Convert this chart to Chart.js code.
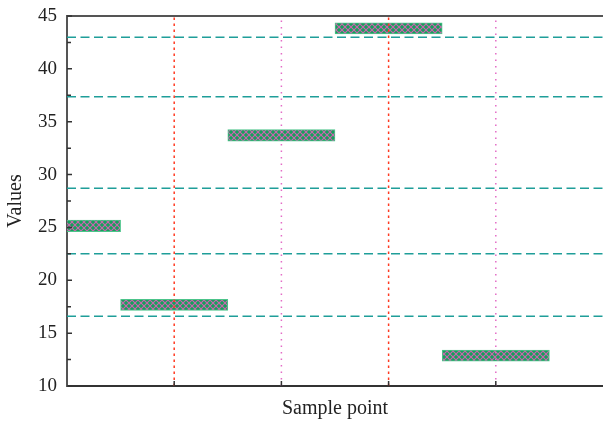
<!DOCTYPE html>
<html>
<head>
<meta charset="utf-8">
<title>Values</title>
<script src="https://cdn.jsdelivr.net/npm/chart.js@4/dist/chart.umd.min.js"></script>
<style>
  html, body { margin: 0; padding: 0; background: #fff; }
  #grafico { display: block; }
</style>
</head>
<body>
<canvas id="grafico" width="603" height="423"></canvas>
<script>
// datos del gráfico

var puntos = [0, 1, 2, 3, 4];
var barraBajo = [24.6, 17.15, 33.15, 43.3, 12.35];
var barraAlto = [25.7, 18.2, 34.25, 44.35, 13.4];
var lineasH = [43.0, 37.35, 28.7, 22.5, 16.6];
var lineasV = [1, 2, 3, 4];
var coloresV = ["#ff3a22", "#e36cc6", "#ff3a22", "#e36cc6"];
var ticksY = [10, 15, 20, 25, 30, 35, 40, 45];
var ticksX = [1, 2, 3, 4];

// patrón verde con cuadrícula rosa para las barras

function crearPatron() {
    var c = document.createElement("canvas");
    c.width = 6;
    c.height = 6;
    var ctx = c.getContext("2d");
    ctx.fillStyle = "#16a05c";
    ctx.fillRect(0, 0, 6, 6);
    ctx.strokeStyle = "#d062b0";
    ctx.lineWidth = 1.1;
    ctx.beginPath();
    ctx.moveTo(0, 0); ctx.lineTo(6, 6);
    ctx.moveTo(6, 0); ctx.lineTo(0, 6);
    ctx.stroke();
    return ctx.createPattern(c, "repeat");
}

// marcas de los ejes hacia dentro y línea superior del marco

var marcas = {
    id: "marcas",
    afterDraw: function (chart) {
        var ctx = chart.ctx;
        var area = chart.chartArea;
        var x = chart.scales.x;
        var y = chart.scales.y;
        ctx.save();
        ctx.strokeStyle = "#555";
        ctx.lineWidth = 2;
        ctx.beginPath();
        ctx.moveTo(area.left, area.top);
        ctx.lineTo(area.right, area.top);
        ctx.stroke();

        ctx.strokeStyle = "#333";
        ctx.lineWidth = 1.5;
        ctx.beginPath();
        for (var i = 0; i < ticksY.length; i++) {
            var py = y.getPixelForValue(ticksY[i]);
            ctx.moveTo(area.left, py);
            ctx.lineTo(area.left + 5, py);
            if (i < ticksY.length - 1) {
                var pm = y.getPixelForValue(ticksY[i] + 2.5);
                ctx.moveTo(area.left, pm);
                ctx.lineTo(area.left + 4, pm);
            }
        }
        for (var j = 0; j < ticksX.length; j++) {
            var px = x.getPixelForValue(ticksX[j]);
            ctx.moveTo(px, area.bottom);
            ctx.lineTo(px, area.bottom - 5);
        }
        ctx.stroke();
        ctx.restore();
    }
};

function cargaGrafico() {
    var datasets = [];

    var barras = [];
    for (var i = 0; i < puntos.length; i++) {
        barras.push({ x: puntos[i], y: [barraBajo[i], barraAlto[i]] });
    }
    datasets.push({
        type: "bar",
        data: barras,
        backgroundColor: crearPatron(),
        borderColor: "#4cc48a",
        borderWidth: 1,
        borderSkipped: false,
        barPercentage: 1,
        categoryPercentage: 1,
        grouped: false,
        order: 2
    });

    for (var h = 0; h < lineasH.length; h++) {
        datasets.push({
            type: "line",
            data: [{ x: 0, y: lineasH[h] }, { x: 5, y: lineasH[h] }],
            borderColor: "#1f9e99",
            borderWidth: 1.5,
            borderDash: [9, 4.5],
            pointRadius: 0,
            order: 1
        });
    }

    for (var v = 0; v < lineasV.length; v++) {
        datasets.push({
            type: "line",
            data: [{ x: lineasV[v], y: 10 }, { x: lineasV[v], y: 45 }],
            borderColor: coloresV[v],
            borderWidth: 1.5,
            borderDash: v % 2 === 0 ? [2.5, 3.5] : [1.5, 5],
            pointRadius: 0,
            order: 1
        });
    }

    var config = {
        type: "bar",
        data: { datasets: datasets },
        options: {
            responsive: false,
            animation: false,
            devicePixelRatio: 1,
            layout: { padding: 0 },
            plugins: {
                legend: { display: false },
                tooltip: { enabled: false }
            },
            scales: {
                x: {
                    type: "linear",
                    min: 0,
                    max: 5,
                    offset: false,
                    grid: { display: false, drawTicks: false, offset: false },
                    border: { display: true, color: "#333", width: 2 },
                    afterBuildTicks: function (scale) {
                        scale.ticks = ticksX.map(function (t) { return { value: t }; });
                    },
                    ticks: { display: false },
                    title: {
                        display: true,
                        text: "Sample point",
                        color: "#222",
                        font: { family: "Liberation Serif", size: 20 },
                        padding: { top: 0, bottom: 2 }
                    },
                    afterFit: function (scale) {
                        scale.height = 37;
                        scale.paddingLeft = 0;
                        scale.paddingRight = 0;
                    }
                },
                y: {
                    min: 10,
                    max: 45,
                    grid: { display: false, drawTicks: false },
                    border: { display: true, color: "#555", width: 2 },
                    afterBuildTicks: function (scale) {
                        scale.ticks = ticksY.map(function (t) { return { value: t }; });
                    },
                    ticks: {
                        padding: 10,
                        color: "#222",
                        font: { family: "Liberation Serif", size: 19 }
                    },
                    title: {
                        display: true,
                        text: "Values",
                        color: "#222",
                        font: { family: "Liberation Serif", size: 20 },
                        padding: { top: 4, bottom: 0 }
                    },
                    afterFit: function (scale) {
                        scale.width = 67;
                        scale.paddingTop = 16;
                        scale.paddingBottom = 0;
                    }
                }
            }
        },
        plugins: [marcas]
    };

    new Chart(document.getElementById("grafico").getContext("2d"), config);
}

cargaGrafico();
</script>
</body>
</html>
